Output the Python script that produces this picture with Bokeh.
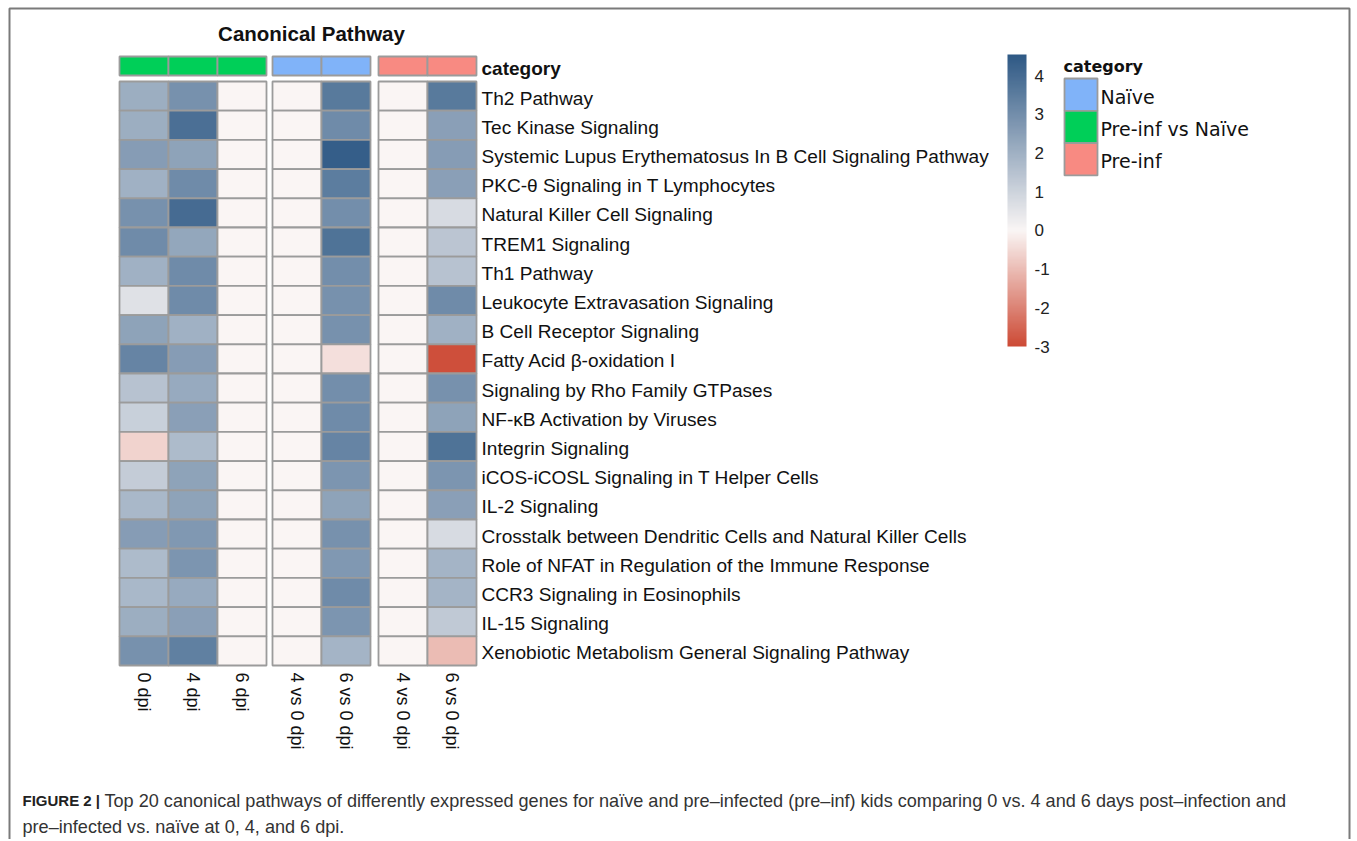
import math
from bokeh.plotting import figure
from bokeh.models import (ColumnDataSource, LinearColorMapper, ColorBar, FixedTicker,
                          Range1d)
from bokeh.core.properties import value
from bokeh.embed import file_html
from bokeh.resources import INLINE

# ---------------- data ----------------
pathways = [
    "Th2 Pathway",
    "Tec Kinase Signaling",
    "Systemic Lupus Erythematosus In B Cell Signaling Pathway",
    "PKC-θ Signaling in T Lymphocytes",
    "Natural Killer Cell Signaling",
    "TREM1 Signaling",
    "Th1 Pathway",
    "Leukocyte Extravasation Signaling",
    "B Cell Receptor Signaling",
    "Fatty Acid β-oxidation I",
    "Signaling by Rho Family GTPases",
    "NF-κB Activation by Viruses",
    "Integrin Signaling",
    "iCOS-iCOSL Signaling in T Helper Cells",
    "IL-2 Signaling",
    "Crosstalk between Dendritic Cells and Natural Killer Cells",
    "Role of NFAT in Regulation of the Immune Response",
    "CCR3 Signaling in Eosinophils",
    "IL-15 Signaling",
    "Xenobiotic Metabolism General Signaling Pathway",
]
column_labels = ["0 dpi", "4 dpi", "6 dpi", "4 vs 0 dpi", "6 vs 0 dpi", "4 vs 0 dpi", "6 vs 0 dpi"]
column_category = ["Pre-inf vs Naïve", "Pre-inf vs Naïve", "Pre-inf vs Naïve",
                   "Naïve", "Naïve", "Pre-inf", "Pre-inf"]
category_names = ["Naïve", "Pre-inf vs Naïve", "Pre-inf"]
category_colors = ["#80b3f9", "#00cf58", "#f88a82"]

z_0dpi = [2.1, 2.1, 2.6, 2.0, 2.9, 3.1, 2.0, 0.6, 2.4, 3.3, 1.5, 1.1, -0.6, 1.2, 1.8, 2.6, 1.7, 1.8, 2.1, 2.9]
z_4dpi = [2.9, 3.9, 2.4, 3.1, 4.0, 2.3, 3.1, 3.1, 2.0, 2.6, 2.2, 2.5, 1.7, 2.4, 2.4, 2.7, 2.8, 2.2, 2.5, 3.4]
z_6dpi = [0.0, 0.0, 0.0, 0.0, 0.0, 0.0, 0.0, 0.0, 0.0, 0.0, 0.0, 0.0, 0.0, 0.0, 0.0, 0.0, 0.0, 0.0, 0.0, 0.0]
z_naive_4v0 = [0.0, 0.0, 0.0, 0.0, 0.0, 0.0, 0.0, 0.0, 0.0, 0.0, 0.0, 0.0, 0.0, 0.0, 0.0, 0.0, 0.0, 0.0, 0.0, 0.0]
z_naive_6v0 = [3.6, 3.1, 4.4, 3.5, 3.0, 3.8, 3.0, 2.9, 2.9, -0.4, 3.0, 3.1, 3.3, 2.8, 2.4, 2.9, 2.7, 3.1, 2.8, 1.9]
z_preinf_4v0 = [0.0, 0.0, 0.0, 0.0, 0.0, 0.0, 0.0, 0.0, 0.0, 0.0, 0.0, 0.0, 0.0, 0.0, 0.0, 0.0, 0.0, 0.0, 0.0, 0.0]
z_preinf_6v0 = [3.6, 2.5, 2.6, 2.5, 0.8, 1.4, 1.5, 3.1, 2.0, -2.9, 2.9, 2.4, 3.8, 2.8, 2.5, 0.8, 1.9, 1.9, 1.3, -1.0]
columns_z = [z_0dpi, z_4dpi, z_6dpi, z_naive_4v0, z_naive_6v0, z_preinf_4v0, z_preinf_6v0]

colorbar_ticks = [-3, -2, -1, 0, 1, 2, 3, 4]
colorbar_tick_labels = ["-3", "-2", "-1", "0", "1", "2", "3", "4"]
z_low, z_high = -3.0, 4.55

title_text = "Canonical Pathway"
caption_bold = "FIGURE 2 |"
caption_line1 = ("Top 20 canonical pathways of differently expressed genes for naïve and pre–infected "
                 "(pre–inf) kids comparing 0 vs. 4 and 6 days post–infection and")
caption_line2 = "pre–infected vs. naïve at 0, 4, and 6 dpi."

# ---------------- layout (page pixels) ----------------
W, H = 1355, 839
group_of_col = [0, 0, 0, 1, 1, 2, 2]
group_left = [119, 272, 378]
col_w = 49.0
row_top0 = 81.0
row_h = 29.2
cat_top, cat_h = 56.0, 19.0
label_x = 481

def col_center(j):
    g = group_of_col[j]
    k = j - group_of_col.index(g)
    return group_left[g] + (k + 0.5) * col_w

# ---------------- palette ----------------
def hex2rgb(h):
    return tuple(int(h[i:i + 2], 16) for i in (1, 3, 5))

red, white, blue = hex2rgb("#cd4a35"), hex2rgb("#faf6f5"), hex2rgb("#2e5985")
n = 256
pal = []
for i in range(n):
    v = z_low + (z_high - z_low) * i / (n - 1)
    if v < 0:
        t = v / z_low
        a, b = white, red
    else:
        t = v / z_high
        a, b = white, blue
    c = tuple(int(round(a[k] + (b[k] - a[k]) * t)) for k in range(3))
    pal.append("#%02x%02x%02x" % c)
mapper = LinearColorMapper(palette=pal, low=z_low, high=z_high)

# ---------------- figure ----------------
p = figure(width=W, height=H, x_range=Range1d(0, W), y_range=Range1d(H, 0),
           output_backend="svg", toolbar_location=None, min_border=0,
           x_axis_location=None, y_axis_location=None)
p.grid.visible = False
p.outline_line_color = None
p.background_fill_color = "white"

# outer frame (decoration)
p.line(x=[9, 9, 1349, 1349], y=[900, 8, 8, 900], line_color="#7a7a7a", line_width=2)

# heatmap cells
xs, ys, zs = [], [], []
for j, col in enumerate(columns_z):
    for i, zval in enumerate(col):
        xs.append(col_center(j))
        ys.append(row_top0 + (i + 0.5) * row_h)
        zs.append(zval)
src = ColumnDataSource(dict(x=xs, y=ys, z=zs))
p.rect(x="x", y="y", width=col_w, height=row_h, source=src,
       fill_color={"field": "z", "transform": mapper},
       line_color="#9b9b9b", line_width=1.8)

# category annotation bar
cat_color_map = dict(zip(category_names, category_colors))
csrc = ColumnDataSource(dict(x=[col_center(j) for j in range(len(column_labels))],
                             y=[cat_top + cat_h / 2] * len(column_labels),
                             c=[cat_color_map[c] for c in column_category]))
p.rect(x="x", y="y", width=col_w, height=cat_h, source=csrc, fill_color="c",
       line_color="#9b9b9b", line_width=1.8)

# row labels
p.text(x=[label_x] * len(pathways), y=[row_top0 + (i + 0.5) * row_h + 2 for i in range(len(pathways))],
       text=pathways, text_font=value("Liberation Sans"), text_font_size="19.1px",
       text_color="#111111", text_baseline="middle", text_align="left")
p.text(x=[label_x], y=[cat_top + cat_h / 2 + 2], text=["category"], text_font=value("Liberation Sans"),
       text_font_size="19px", text_font_style="bold", text_color="#111111",
       text_baseline="middle", text_align="left")

# column labels (rotated)
p.text(x=[col_center(j) for j in range(len(column_labels))], y=[672] * len(column_labels),
       text=column_labels, angle=-math.pi / 2, text_font=value("Liberation Sans"),
       text_font_size="18px", text_color="#111111", text_baseline="middle", text_align="left")

# title
p.text(x=[311], y=[33], text=[title_text], text_font=value("Liberation Sans"), text_font_size="20.5px",
       text_font_style="bold", text_color="#111111", text_align="center", text_baseline="middle")

# legend for category
p.text(x=[1063], y=[66], text=["category"], text_font=value("DejaVu Sans"), text_font_size="16px",
       text_font_style="bold", text_color="#111111", text_align="left", text_baseline="middle")
sw_top, sw_h = 78.0, 32.3
lsrc = ColumnDataSource(dict(x=[1080.5] * 3, y=[sw_top + (k + 0.5) * sw_h for k in range(3)],
                             c=category_colors, t=category_names,
                             ty=[sw_top + (k + 0.5) * sw_h + 2 for k in range(3)]))
p.rect(x="x", y="y", width=33, height=sw_h, source=lsrc, fill_color="c",
       line_color="#9b9b9b", line_width=1.8)
p.text(x=1100, y="ty", text="t", source=lsrc, text_font=value("DejaVu Sans"), text_font_size="19px",
       text_color="#111111", text_align="left", text_baseline="middle")

# caption
p.text(x=[22], y=[800], text=[caption_bold], text_font=value("Liberation Sans"), text_font_size="15px",
       text_font_style="bold", text_color="#222222", text_baseline="middle", text_align="left")
p.text(x=[104, 22], y=[800, 826], text=[caption_line1, caption_line2], text_font=value("Liberation Sans"),
       text_font_size="18.1px", text_color="#333333", text_baseline="middle", text_align="left")

# colour bar
cb = ColorBar(color_mapper=mapper, location=(1007, H - 346), width=19, height=292,
              ticker=FixedTicker(ticks=colorbar_ticks),
              major_label_overrides=dict(zip(colorbar_ticks, colorbar_tick_labels)),
              padding=0, margin=0,
              major_tick_line_color=None, minor_tick_line_color=None, bar_line_color=None,
              label_standoff=8, major_label_text_font_size="17px",
              major_label_text_font="Liberation Sans", major_label_text_color="#222222",
              background_fill_color=None, border_line_color=None)
p.add_layout(cb, "center")

open("out.html", "w").write(file_html(p, INLINE))
